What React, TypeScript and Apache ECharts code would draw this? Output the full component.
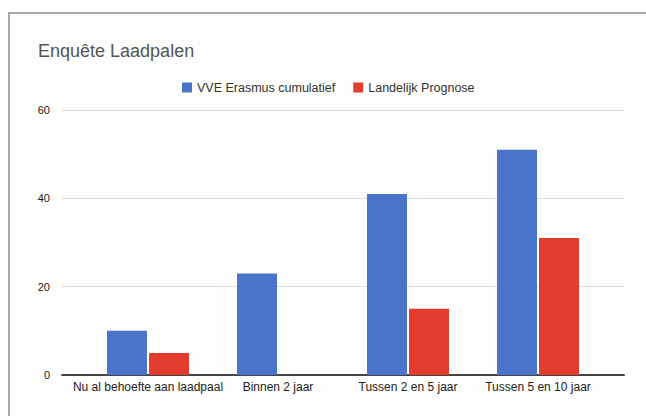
import React, { useEffect, useRef } from "react";
import * as echarts from "echarts";

const categories = ["Nu al behoefte aan laadpaal", "Binnen 2 jaar", "Tussen 2 en 5 jaar", "Tussen 5 en 10 jaar"];
const vveErasmus = [10, 23, 41, 51];
const landelijk: (number | string)[] = [5, "-", 15, 31];
const seriesNames = ["VVE Erasmus cumulatief", "Landelijk Prognose"];
const yMin = 0;
const yMax = 60;
const yInterval = 20;

export default function App() {
  const ref = useRef<HTMLDivElement>(null);
  useEffect(() => {
    const chart = echarts.init(ref.current!, null, { renderer: "svg" });
    const font = "Arial, 'Liberation Sans', sans-serif";
    chart.setOption({
      animation: false,
      backgroundColor: "transparent",
      title: {
        text: "Enquête Laadpalen",
        left: 33,
        top: 37,
        textStyle: { fontFamily: font, fontSize: 18, fontWeight: "normal", color: "#555555" },
      },
      legend: {
        left: 177,
        top: 76,
        itemWidth: 10,
        itemHeight: 10,
        itemGap: 18,
        icon: "rect",
        textStyle: { fontFamily: font, fontSize: 12.5, color: "#333333" },
        data: seriesNames,
      },
      grid: [
        { left: 62, right: 22, top: 110, bottom: 41 },
        { left: 83, right: 43, top: 110, bottom: 41 },
      ],
      xAxis: [
        {
          type: "category",
          gridIndex: 0,
          data: [""],
          axisLine: { show: true, lineStyle: { color: "#444444", width: 2 } },
          axisTick: { show: false },
          axisLabel: { show: false },
        },
        {
          type: "category",
          gridIndex: 1,
          data: categories,
          axisLine: { show: false },
          axisTick: { show: false },
          axisLabel: {
            interval: 0,
            margin: 6,
            fontFamily: font,
            fontSize: 12,
            color: "#222222",
          },
        },
      ],
      yAxis: [
        {
          type: "value",
          gridIndex: 0,
          min: yMin,
          max: yMax,
          interval: yInterval,
          axisLine: { show: false },
          axisTick: { show: false },
          axisLabel: { margin: 12, fontFamily: font, fontSize: 11, color: "#222222" },
          splitLine: { lineStyle: { color: "#dddddd", width: 1 } },
        },
        {
          type: "value",
          gridIndex: 1,
          min: yMin,
          max: yMax,
          interval: yInterval,
          show: false,
          splitLine: { show: false },
        },
      ],
      series: [
        {
          name: seriesNames[0],
          type: "bar",
          xAxisIndex: 1,
          yAxisIndex: 1,
          data: vveErasmus,
          barWidth: 40,
          barGap: "5%",
          itemStyle: { color: "#4a74c9" },
        },
        {
          name: seriesNames[1],
          type: "bar",
          xAxisIndex: 1,
          yAxisIndex: 1,
          data: landelijk,
          barWidth: 40,
          barGap: "5%",
          itemStyle: { color: "#e33b2e" },
        },
      ],
    });
    return () => chart.dispose();
  }, []);
  return (
    <div
      style={{
        position: "fixed",
        left: 0,
        top: 0,
        width: 646,
        height: 416,
        overflow: "hidden",
        background: "#ffffff",
      }}
    >
      <div
        style={{
          position: "absolute",
          left: 8,
          top: 12,
          width: 800,
          height: 600,
          border: "2px solid #a8a8a8",
          background: "#fdfdfc",
        }}
      />
      <div
        ref={ref}
        style={{ position: "absolute", left: 0, top: 0, width: 646, height: 416 }}
      />
    </div>
  );
}
